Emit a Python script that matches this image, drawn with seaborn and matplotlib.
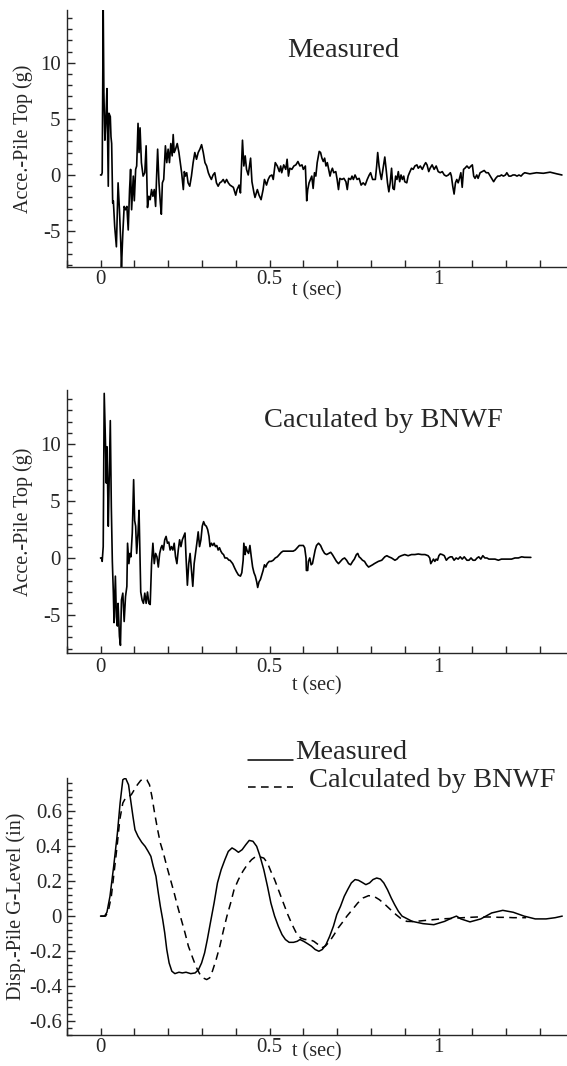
import numpy as np
import pandas as pd
import matplotlib
matplotlib.use("Agg")
import matplotlib.pyplot as plt
import seaborn as sns
from matplotlib.ticker import MultipleLocator, FixedLocator, FormatStrFormatter
from matplotlib.lines import Line2D

# ---------------- data ----------------
# Panel 1: measured pile-top acceleration (g)
acc_meas_t = [0.000, 0.003, 0.005, 0.008, 0.010, 0.013, 0.016, 0.019, 0.023, 0.025, 0.029, 0.031, 0.033, 0.036,
              0.038, 0.042, 0.047, 0.052, 0.056, 0.060, 0.062, 0.066, 0.070, 0.074, 0.078, 0.082, 0.086, 0.089,
              0.092, 0.097, 0.100, 0.104, 0.107, 0.111, 0.114, 0.117, 0.121, 0.126, 0.131, 0.135, 0.139, 0.143,
              0.147, 0.151, 0.155, 0.159, 0.163, 0.166, 0.169, 0.173, 0.177, 0.180, 0.183, 0.187, 0.192, 0.196,
              0.200, 0.204, 0.208, 0.212, 0.215, 0.218, 0.222, 0.227, 0.232, 0.236, 0.240, 0.245, 0.248, 0.251,
              0.255, 0.259, 0.264, 0.269, 0.274, 0.279, 0.284, 0.289, 0.294, 0.299, 0.304, 0.309, 0.314, 0.319,
              0.323, 0.328, 0.333, 0.338, 0.343, 0.348, 0.353, 0.358, 0.363, 0.368, 0.373, 0.378, 0.383, 0.393,
              0.400, 0.404, 0.410, 0.414, 0.420, 0.424, 0.428, 0.432, 0.437, 0.444, 0.448, 0.454, 0.457, 0.464,
              0.469, 0.475, 0.481, 0.485, 0.491, 0.496, 0.501, 0.507, 0.511, 0.517, 0.523, 0.529, 0.533, 0.536,
              0.542, 0.548, 0.552, 0.556, 0.560, 0.566, 0.572, 0.578, 0.584, 0.590, 0.596, 0.600, 0.606, 0.610,
              0.613, 0.617, 0.621, 0.625, 0.629, 0.633, 0.637, 0.641, 0.647, 0.651, 0.655, 0.659, 0.663, 0.667,
              0.671, 0.675, 0.679, 0.682, 0.686, 0.690, 0.696, 0.700, 0.704, 0.708, 0.714, 0.720, 0.726, 0.730,
              0.734, 0.740, 0.744, 0.748, 0.753, 0.759, 0.765, 0.771, 0.777, 0.783, 0.789, 0.795, 0.799, 0.805,
              0.813, 0.817, 0.820, 0.824, 0.827, 0.831, 0.837, 0.841, 0.845, 0.849, 0.853, 0.857, 0.861, 0.865,
              0.869, 0.873, 0.877, 0.881, 0.885, 0.889, 0.893, 0.897, 0.900, 0.906, 0.910, 0.914, 0.920, 0.925,
              0.930, 0.936, 0.940, 0.946, 0.952, 0.958, 0.962, 0.966, 0.971, 0.975, 0.981, 0.987, 0.993, 0.999,
              1.005, 1.011, 1.017, 1.023, 1.029, 1.035, 1.038, 1.042, 1.046, 1.050, 1.054, 1.058, 1.062, 1.066,
              1.070, 1.074, 1.078, 1.084, 1.090, 1.096, 1.100, 1.104, 1.108, 1.113, 1.117, 1.123, 1.129, 1.135,
              1.141, 1.147, 1.153, 1.159, 1.163, 1.169, 1.175, 1.181, 1.186, 1.192, 1.198, 1.202, 1.208, 1.214,
              1.220, 1.226, 1.232, 1.238, 1.244, 1.250, 1.255, 1.270, 1.290, 1.310, 1.330, 1.350, 1.365]
acc_meas_v = [0.0, 0.0, 0.2, 15.0, 7.3, 3.1, 4.9, 7.7, -1.0, 5.5, 5.2, 3.4, 2.8, -2.5,
              -2.3, -4.6, -6.4, -0.7, -3.1, -6.1, -8.3, -5.2, -2.8, -3.1, -2.8, -4.9, -1.3, 0.5,
              -3.1, -0.1, -2.3, 0.5, 0.8, 4.6, 2.0, 4.2, 1.1, -0.1, 0.2, 2.6, -2.9, -1.9,
              -2.2, -1.3, -1.9, -1.3, -2.8, -0.1, 2.3, -0.7, -2.5, -3.5, -0.7, -0.4, 2.6, 1.1,
              2.3, 1.1, 2.8, 1.7, 3.6, 2.0, 2.3, 2.8, 2.0, 1.1, 0.2, -1.3, 0.3, -0.1,
              0.2, -0.7, -1.0, -0.1, 1.1, 2.0, 1.4, 2.0, 2.3, 2.7, 2.0, 1.1, 0.8, 0.2,
              -0.1, -0.4, 0.0, 0.2, -0.7, -1.0, -0.7, -0.6, -0.4, -0.7, -0.4, -0.7, -0.9, -1.1,
              -1.8, -1.3, -0.9, -1.6, 3.1, 0.8, 1.7, 0.5, 0.0, 1.5, -0.6, -1.6, -2.0, -1.3,
              -1.8, -2.2, -1.3, -0.4, -0.9, -0.4, -0.1, 0.0, -0.4, 1.1, 0.8, 0.3, 0.8, 0.2,
              0.9, 0.5, 1.4, -0.1, 0.6, 0.5, 0.8, 0.9, 1.2, 0.8, 0.9, 0.5, 0.8, -2.3,
              -1.3, -0.7, -0.4, -0.1, -1.2, 0.2, -0.1, 1.1, 2.1, 2.0, 1.5, 1.2, 1.5, 0.8,
              1.1, 0.5, -0.1, 0.3, 0.6, 0.2, 0.3, -0.4, -1.3, -0.3, -0.4, -0.3, -0.6, -1.3,
              -0.3, -0.4, -0.1, -0.4, 0.0, -0.4, -0.3, -0.9, -0.7, -0.9, -0.4, 0.0, 0.2, -0.4,
              -0.4, 0.8, 2.0, 0.8, 0.2, -0.4, 0.8, 1.6, 0.5, -0.7, -1.5, -0.7, 0.6, -1.2,
              -1.3, -0.1, -0.4, 0.3, -0.6, 0.0, -0.4, -0.1, -0.6, -0.7, -0.1, 0.2, 0.6, 0.5,
              0.8, 0.9, 0.6, 0.8, 0.5, 0.9, 1.1, 0.9, 0.3, 0.6, 0.9, 0.5, 0.8, 0.3,
              0.2, 0.3, 0.0, -0.1, 0.0, 0.2, -0.1, -1.0, -1.7, -0.7, -0.4, -0.7, -0.3, 0.2,
              -1.1, 0.5, 0.6, 0.8, 0.6, 0.8, 0.9, -0.1, -0.3, 0.0, -0.3, 0.2, 0.3, 0.4,
              0.2, 0.2, -0.1, -0.4, -0.6, -0.3, -0.1, -0.1, 0.0, -0.1, 0.0, 0.2, -0.1, -0.1,
              0.0, 0.0, -0.1, 0.0, -0.1, 0.1, 0.2, 0.1, 0.2, 0.15, 0.25, 0.1, 0.0]

# Panel 2: BNWF-calculated pile-top acceleration (g)
acc_calc_t = [0.000, 0.003, 0.005, 0.008, 0.011, 0.015, 0.017, 0.019, 0.021, 0.023, 0.026, 0.029, 0.032, 0.035,
              0.038, 0.040, 0.044, 0.047, 0.050, 0.052, 0.056, 0.059, 0.062, 0.066, 0.070, 0.074, 0.078, 0.080,
              0.084, 0.087, 0.090, 0.094, 0.098, 0.101, 0.104, 0.107, 0.111, 0.114, 0.117, 0.119, 0.123, 0.127,
              0.131, 0.135, 0.139, 0.143, 0.147, 0.151, 0.155, 0.159, 0.163, 0.167, 0.171, 0.175, 0.179, 0.182,
              0.186, 0.190, 0.194, 0.198, 0.202, 0.206, 0.210, 0.214, 0.218, 0.222, 0.226, 0.230, 0.234, 0.238,
              0.242, 0.246, 0.250, 0.253, 0.257, 0.261, 0.265, 0.269, 0.273, 0.277, 0.281, 0.285, 0.289, 0.293,
              0.297, 0.301, 0.305, 0.309, 0.313, 0.317, 0.321, 0.324, 0.328, 0.332, 0.336, 0.340, 0.344, 0.348,
              0.352, 0.356, 0.360, 0.364, 0.368, 0.374, 0.380, 0.383, 0.391, 0.397, 0.402, 0.408, 0.414, 0.418,
              0.422, 0.424, 0.428, 0.430, 0.434, 0.438, 0.442, 0.446, 0.450, 0.454, 0.458, 0.462, 0.465, 0.469,
              0.473, 0.477, 0.481, 0.485, 0.489, 0.493, 0.499, 0.505, 0.511, 0.517, 0.523, 0.529, 0.535, 0.540,
              0.546, 0.552, 0.558, 0.564, 0.570, 0.576, 0.582, 0.588, 0.594, 0.600, 0.604, 0.608, 0.609, 0.613,
              0.615, 0.619, 0.623, 0.627, 0.631, 0.635, 0.639, 0.645, 0.651, 0.657, 0.663, 0.669, 0.675, 0.681,
              0.686, 0.692, 0.698, 0.704, 0.710, 0.716, 0.722, 0.728, 0.734, 0.740, 0.746, 0.751, 0.757, 0.761,
              0.765, 0.769, 0.775, 0.781, 0.787, 0.793, 0.799, 0.805, 0.810, 0.822, 0.832, 0.841, 0.847, 0.853,
              0.861, 0.871, 0.877, 0.883, 0.890, 0.900, 0.910, 0.920, 0.930, 0.940, 0.950, 0.960, 0.969, 0.974,
              0.977, 0.981, 0.985, 0.989, 0.993, 0.997, 1.001, 1.005, 1.011, 1.017, 1.023, 1.029, 1.035, 1.040,
              1.046, 1.052, 1.058, 1.064, 1.070, 1.076, 1.084, 1.090, 1.096, 1.102, 1.108, 1.114, 1.119, 1.125,
              1.131, 1.137, 1.143, 1.149, 1.157, 1.167, 1.177, 1.186, 1.196, 1.206, 1.216, 1.226, 1.236, 1.246,
              1.254, 1.273]
acc_calc_v = [0.0, 0.0, -0.3, 1.0, 14.5, 9.8, 6.6, 9.8, 6.6, 2.8, 7.4, 12.1, 4.5, -0.3,
              -3.1, -5.7, -1.6, -5.2, -6.0, -4.0, -6.9, -7.7, -3.7, -3.1, -5.6, -3.4, -2.5, 1.3,
              -0.5, 0.4, 0.1, 2.2, 6.9, 3.3, 2.8, 0.4, 2.2, 4.2, 0.1, -3.0, -3.7, -4.0,
              -3.1, -4.0, -3.0, -4.0, -4.1, -0.5, 1.3, -0.5, 0.4, 0.1, -0.8, 0.4, 0.9, 1.1,
              0.7, 1.6, 1.9, 1.3, 1.4, 0.7, 1.0, 0.7, 1.3, 0.1, -0.5, 0.7, 1.6, 1.0,
              1.6, 1.9, 2.2, 0.1, -2.4, -0.5, 0.4, -1.1, -2.5, -0.5, 0.4, 1.3, 2.3, 1.0,
              1.6, 2.8, 3.2, 2.9, 2.8, 2.5, 1.9, 1.0, 1.3, 1.1, 1.3, 1.0, 1.1, 0.7,
              0.9, 0.6, 0.4, 0.3, 0.0, 0.0, -0.2, -0.2, -0.5, -0.9, -1.2, -1.5, -1.6, -1.3,
              -0.2, 1.3, 0.3, 1.0, 0.6, 0.4, 1.1, 0.1, -0.8, -1.3, -1.6, -2.1, -2.6, -2.1,
              -1.9, -1.5, -1.1, -0.6, -0.8, -0.5, -0.3, -0.3, -0.2, 0.0, 0.1, 0.3, 0.5, 0.6,
              0.6, 0.6, 0.6, 0.6, 0.6, 0.7, 0.9, 1.1, 1.1, 1.1, 0.9, 0.0, -1.1, -1.1,
              -0.3, 0.0, -0.6, -0.5, 0.1, 0.7, 1.1, 1.3, 1.1, 0.7, 0.4, 0.3, 0.4, 0.5,
              0.3, 0.0, -0.3, -0.5, -0.3, -0.1, 0.0, -0.2, -0.5, -0.6, -0.3, -0.1, 0.3, 0.4,
              0.1, 0.0, -0.2, -0.3, -0.6, -0.8, -0.7, -0.6, -0.5, -0.3, -0.2, 0.1, 0.2, 0.1,
              0.0, -0.2, -0.1, 0.1, 0.2, 0.3, 0.2, 0.3, 0.3, 0.35, 0.3, 0.3, 0.2, 0.0,
              -0.5, -0.3, -0.1, -0.3, -0.1, -0.2, 0.2, 0.35, 0.3, 0.2, -0.2, 0.0, 0.1, 0.1,
              -0.2, 0.0, -0.1, 0.1, -0.1, 0.1, -0.2, -0.2, 0.0, -0.2, -0.2, 0.0, 0.1, -0.1,
              0.2, 0.0, 0.0, -0.1, -0.1, -0.1, -0.2, -0.1, -0.1, -0.1, -0.1, 0.0, 0.0, 0.1,
              0.06, 0.05]

# Panel 3: pile displacement at ground level (in)
disp_meas_t = [0.000, 0.012, 0.019, 0.028, 0.039, 0.050, 0.058, 0.066, 0.074, 0.083, 0.089, 0.096, 0.102, 0.111,
               0.122, 0.132, 0.141, 0.149, 0.156, 0.164, 0.171, 0.177, 0.184, 0.190, 0.196, 0.203, 0.211, 0.220,
               0.232, 0.242, 0.253, 0.267, 0.280, 0.290, 0.299, 0.308, 0.316, 0.325, 0.336, 0.346, 0.357, 0.368,
               0.378, 0.389, 0.398, 0.408, 0.419, 0.430, 0.440, 0.451, 0.462, 0.472, 0.483, 0.494, 0.504, 0.515,
               0.526, 0.537, 0.547, 0.558, 0.571, 0.582, 0.590, 0.601, 0.612, 0.624, 0.635, 0.646, 0.656, 0.667,
               0.678, 0.689, 0.699, 0.710, 0.721, 0.731, 0.742, 0.753, 0.763, 0.774, 0.785, 0.796, 0.806, 0.817,
               0.828, 0.838, 0.849, 0.860, 0.870, 0.881, 0.892, 0.922, 0.954, 0.986, 1.018, 1.040, 1.053, 1.066,
               1.093, 1.125, 1.157, 1.190, 1.221, 1.253, 1.286, 1.318, 1.345, 1.366]
disp_meas_v = [0.000, 0.000, 0.022, 0.113, 0.285, 0.475, 0.647, 0.780, 0.790, 0.751, 0.666, 0.570, 0.494, 0.456,
               0.422, 0.399, 0.370, 0.342, 0.285, 0.228, 0.132, 0.056, -0.020, -0.096, -0.191, -0.268, -0.315, -0.329,
               -0.321, -0.325, -0.321, -0.329, -0.325, -0.306, -0.268, -0.210, -0.134, -0.039, 0.075, 0.190, 0.266, 0.323,
               0.370, 0.390, 0.380, 0.365, 0.380, 0.409, 0.433, 0.428, 0.399, 0.342, 0.266, 0.170, 0.075, 0.000,
               -0.058, -0.106, -0.134, -0.150, -0.150, -0.144, -0.134, -0.144, -0.157, -0.172, -0.191, -0.201, -0.191, -0.163,
               -0.115, -0.058, 0.009, 0.056, 0.113, 0.151, 0.190, 0.209, 0.205, 0.193, 0.180, 0.190, 0.209, 0.218,
               0.212, 0.190, 0.151, 0.104, 0.066, 0.028, 0.000, -0.030, -0.043, -0.049, -0.030, -0.010, 0.000, -0.016,
               -0.033, -0.016, 0.018, 0.033, 0.022, 0.000, -0.016, -0.016, -0.009, 0.000]

disp_calc_t = [0.000, 0.015, 0.023, 0.032, 0.040, 0.049, 0.057, 0.066, 0.074, 0.083, 0.091, 0.100, 0.109, 0.119,
               0.128, 0.137, 0.145, 0.152, 0.160, 0.169, 0.177, 0.186, 0.196, 0.207, 0.218, 0.228, 0.239, 0.250,
               0.260, 0.271, 0.282, 0.293, 0.303, 0.314, 0.323, 0.331, 0.342, 0.353, 0.363, 0.374, 0.385, 0.395,
               0.408, 0.421, 0.434, 0.447, 0.460, 0.473, 0.483, 0.494, 0.504, 0.515, 0.528, 0.541, 0.554, 0.567,
               0.579, 0.592, 0.605, 0.618, 0.631, 0.644, 0.654, 0.665, 0.678, 0.691, 0.703, 0.716, 0.729, 0.745,
               0.761, 0.777, 0.793, 0.809, 0.825, 0.842, 0.858, 0.874, 0.890, 0.906, 0.922, 0.943, 0.965, 0.986,
               1.007, 1.029, 1.050, 1.072, 1.093, 1.114, 1.136, 1.157, 1.178, 1.200, 1.221, 1.243, 1.259]
disp_calc_v = [0.000, 0.000, 0.028, 0.113, 0.247, 0.399, 0.551, 0.647, 0.675, 0.685, 0.694, 0.723, 0.751, 0.776,
               0.784, 0.780, 0.751, 0.685, 0.590, 0.494, 0.418, 0.361, 0.285, 0.209, 0.132, 0.056, -0.020, -0.096,
               -0.172, -0.230, -0.287, -0.329, -0.353, -0.363, -0.353, -0.315, -0.249, -0.172, -0.087, 0.000, 0.075, 0.151,
               0.209, 0.256, 0.294, 0.323, 0.342, 0.338, 0.332, 0.304, 0.256, 0.209, 0.142, 0.075, 0.009, -0.049,
               -0.096, -0.125, -0.134, -0.134, -0.144, -0.163, -0.182, -0.172, -0.144, -0.106, -0.068, -0.035, 0.000, 0.037,
               0.075, 0.104, 0.117, 0.113, 0.094, 0.066, 0.037, 0.009, -0.016, -0.030, -0.031, -0.028, -0.024, -0.020,
               -0.016, -0.014, -0.012, -0.009, -0.007, -0.005, -0.005, -0.005, -0.007, -0.007, -0.009, -0.009, -0.009]

x_major_ticks = [0, 0.5, 1]
x_tick_labels = ["0", "0.5", "1"]
acc_y_ticks = [-5, 0, 5, 10]
disp_y_ticks = [-0.6, -0.4, -0.2, 0, 0.2, 0.4, 0.6]

# ---------------- style ----------------
sns.set_style("ticks")
plt.rcParams['font.family'] = ['Liberation Serif', 'DejaVu Serif']
plt.rcParams['axes.unicode_minus'] = False
plt.rcParams['axes.linewidth'] = 1.0

W, H = 567, 1066
fig = plt.figure(figsize=(W / 100, H / 100), dpi=100)

def ax_rect(left, top, right, bottom):
    return [left / W, 1 - bottom / H, (right - left) / W, (bottom - top) / H]

ax1 = fig.add_axes(ax_rect(66.7, 10, 567, 267))
ax2 = fig.add_axes(ax_rect(66.7, 390, 567, 653.3))
ax3 = fig.add_axes(ax_rect(66.7, 778, 567, 1035))

TICK_FS = 15
LAB_FS = 14.5
TITLE_FS = 20.5

df1 = pd.DataFrame({"t": acc_meas_t, "a": acc_meas_v})
df2 = pd.DataFrame({"t": acc_calc_t, "a": acc_calc_v})
df3m = pd.DataFrame({"t": disp_meas_t, "d": disp_meas_v})
df3c = pd.DataFrame({"t": disp_calc_t, "d": disp_calc_v})

sns.lineplot(data=df1, x="t", y="a", ax=ax1, color="black", lw=1.2, sort=False, estimator=None)
sns.lineplot(data=df2, x="t", y="a", ax=ax2, color="black", lw=1.2, sort=False, estimator=None)
sns.lineplot(data=df3m, x="t", y="d", ax=ax3, color="black", lw=1.1, sort=False, estimator=None)
l3c = sns.lineplot(data=df3c, x="t", y="d", ax=ax3, color="black", lw=1.1, sort=False, estimator=None).lines[-1]
l3c.set_dashes((5, 3.5))

def style_axes(ax, ylim, yticks, yminor, ylabel, xpad, ypad, xlab_y, ylab_x, fmt):
    ax.set_xlim(-0.1, 1.38)
    ax.set_ylim(*ylim)
    for s in ("top", "right"):
        ax.spines[s].set_visible(False)
    ax.xaxis.set_major_locator(FixedLocator(x_major_ticks))
    ax.set_xticklabels(x_tick_labels)
    ax.xaxis.set_minor_locator(MultipleLocator(0.1))
    ax.yaxis.set_major_locator(FixedLocator(yticks))
    ax.yaxis.set_major_formatter(FormatStrFormatter(fmt))
    ax.yaxis.set_minor_locator(MultipleLocator(yminor))
    ax.tick_params(axis="x", which="major", direction="in", length=5, width=1, labelsize=TICK_FS, pad=xpad)
    ax.tick_params(axis="x", which="minor", direction="in", length=5, width=1)
    ax.tick_params(axis="y", which="major", direction="in", length=6, width=1, labelsize=TICK_FS, pad=ypad)
    ax.tick_params(axis="y", which="minor", direction="in", length=3.5, width=1)
    ax.set_xlabel("t (sec)", fontsize=LAB_FS)
    ax.xaxis.set_label_coords(0.5, xlab_y)
    ax.set_ylabel(ylabel, fontsize=LAB_FS)
    ax.yaxis.set_label_coords(ylab_x, 0.5)
    ax.patch.set_alpha(0)

style_axes(ax1, (-8.2, 14.7), acc_y_ticks, 1, "Acce.-Pile Top (g)", 2.5, 4.5, -0.056, -0.068, "%g")
style_axes(ax2, (-8.4, 14.8), acc_y_ticks, 1, "Acce.-Pile Top (g)", 3.5, 4.5, -0.088, -0.068, "%g")
style_axes(ax3, (-0.68, 0.79), disp_y_ticks, 0.04, "Disp.-Pile G-Level (in)", 2.5, 3.5, -0.027, -0.082, "%g")

ax1.text(0.552, 0.817, "Measured", transform=ax1.transAxes, fontsize=TITLE_FS, ha="center", va="baseline")
ax2.text(0.632, 0.861, "Caculated by BNWF", transform=ax2.transAxes, fontsize=TITLE_FS, ha="center", va="baseline")

# legend of panel 3 (drawn as in the original, above the axes)
ax3.add_line(Line2D([0.363, 0.452], [1.070, 1.070], transform=ax3.transAxes, color="black", lw=1.1, clip_on=False))
ax3.text(0.456, 1.074, "Measured", transform=ax3.transAxes, fontsize=TITLE_FS, ha="left", va="baseline")
ax3.add_line(Line2D([0.363, 0.452], [0.965, 0.965], transform=ax3.transAxes, color="black", lw=1.1,
                    dashes=(5, 3.5), clip_on=False))
ax3.text(0.484, 0.965, "Calculated by BNWF", transform=ax3.transAxes, fontsize=TITLE_FS, ha="left", va="baseline")

fig.savefig("out.png", dpi=100)
